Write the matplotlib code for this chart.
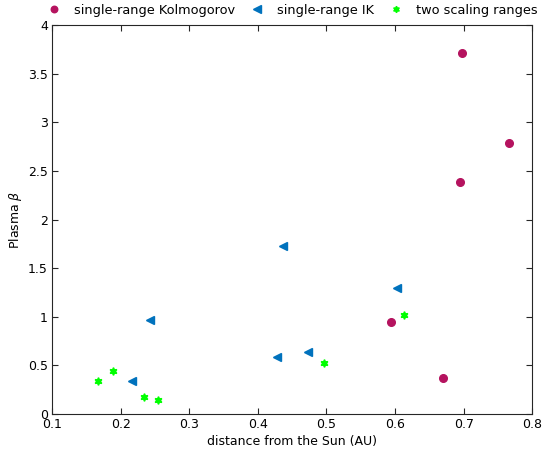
import matplotlib
matplotlib.use('Agg')
import matplotlib.pyplot as plt

# single-range Kolmogorov
kol_r = [0.697, 0.766, 0.695, 0.594, 0.670]
kol_beta = [3.71, 2.79, 2.39, 0.95, 0.37]
# single-range IK
ik_r = [0.437, 0.603, 0.243, 0.216, 0.428, 0.473]
ik_beta = [1.73, 1.30, 0.97, 0.34, 0.59, 0.64]
# two scaling ranges
two_r = [0.167, 0.189, 0.234, 0.255, 0.496, 0.613]
two_beta = [0.34, 0.44, 0.18, 0.14, 0.53, 1.02]

fig = plt.figure(figsize=(5.42, 4.57), dpi=100)
ax = fig.add_axes([0.096, 0.094, 0.886, 0.851])

ax.plot(kol_r, kol_beta, 'o', color='#b5135f', markersize=5.5, label='single-range Kolmogorov')
ax.plot(ik_r, ik_beta, '<', color='#0072bd', markersize=6, label='single-range IK')
ax.plot(two_r, two_beta, marker=(6, 1, 0), linestyle='none', color='#00ff00',
        markersize=5.5, label='two scaling ranges')

ax.set_xlim(0.1, 0.8)
ax.set_ylim(0, 4)
ax.set_xticks([0.1, 0.2, 0.3, 0.4, 0.5, 0.6, 0.7, 0.8])
ax.set_xticklabels(['0.1', '0.2', '0.3', '0.4', '0.5', '0.6', '0.7', '0.8'])
ax.set_yticks([0, 0.5, 1, 1.5, 2, 2.5, 3, 3.5, 4])
ax.set_yticklabels(['0', '0.5', '1', '1.5', '2', '2.5', '3', '3.5', '4'])
ax.tick_params(direction='in', top=True, right=True, length=4, labelsize=9,
               color='#262626', pad=3)
for s in ax.spines.values():
    s.set_color('#262626')
    s.set_linewidth(0.8)

ax.set_xlabel('distance from the Sun (AU)', fontsize=9, labelpad=3)
ax.set_ylabel(r'Plasma $\beta$', fontsize=9, labelpad=3)

ax.legend(loc='lower center', bbox_to_anchor=(0.5, 1.0), ncol=3, frameon=False,
          fontsize=9.3, handlelength=1, handletextpad=1.05, columnspacing=1.2,
          markerscale=0.85, borderaxespad=0.25)

fig.savefig('out.png', dpi=100)
